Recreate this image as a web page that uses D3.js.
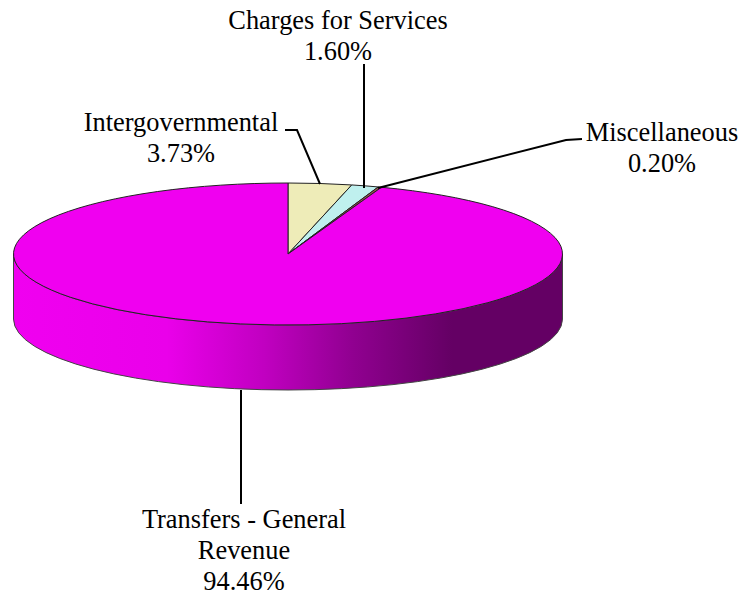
<!DOCTYPE html>
<html><head><meta charset="utf-8"><script src="https://cdn.jsdelivr.net/npm/d3@7"></script>
<style>html,body{margin:0;background:#fff}svg{display:block}text{font-family:"Liberation Serif",serif;font-size:26.4px;fill:#000;text-anchor:middle}</style>
</head><body><svg id="c" width="744" height="596"></svg>
<script>
const categories=["Intergovernmental","Charges for Services","Miscellaneous","Transfers - General Revenue"];
const values=[3.73,1.60,0.20,94.46];
const percentLabels=["3.73%","1.60%","0.20%","94.46%"];
const colors=["#eeecb8","#bff0ee","#a05050","#f000f0"];
const labelLines=[["Intergovernmental"],["Charges for Services"],["Miscellaneous"],["Transfers - General","Revenue"]];
const labelPos=[[181,131],[338,29],[662,141],[244,528]];
const leaders=[[[285,130],[297,130],[320,184]],[[364,64],[364,188]],[[582,139],[566,140],[378,188]],[[241,390],[241,504]]];
const cx=288,cy=254,rx=274.5,ry=71,depth=65;
const svg=d3.select("#c");
const defs=svg.append("defs");
const grad=defs.append("linearGradient").attr("id","side").attr("gradientUnits","userSpaceOnUse").attr("x1",13).attr("x2",562).attr("y1",0).attr("y2",0);
[[0,"#f000f0"],[0.28,"#ea00ea"],[0.46,"#c000c0"],[0.62,"#900090"],[0.8,"#640064"],[1,"#640064"]].forEach(d=>grad.append("stop").attr("offset",d[0]).attr("stop-color",d[1]));
const a=`M${cx-rx},${cy} A${rx},${ry} 0 0 0 ${cx+rx},${cy}`;
svg.append("path").attr("d",`${a} L${cx+rx},${cy+depth} A${rx},${ry} 0 0 1 ${cx-rx},${cy+depth} Z`)
  .attr("fill","url(#side)").attr("stroke","#444").attr("stroke-width",1);
const pie=d3.pie().sort(null).value(d=>d);
const arc=d3.arc().innerRadius(0).outerRadius(rx);
svg.append("g").attr("transform",`translate(${cx},${cy}) scale(1,${ry/rx})`)
 .selectAll("path").data(pie(values)).join("path").attr("d",arc).attr("fill",(d,i)=>colors[i])
 .attr("stroke","#222").attr("stroke-width",1).attr("vector-effect","non-scaling-stroke");
const line=d3.line();
svg.append("g").selectAll("path").data(leaders).join("path").attr("d",line).attr("fill","none").attr("stroke","#000").attr("stroke-width",2);
const g=svg.append("g");
categories.forEach((c,i)=>{
  const [x,y]=labelPos[i];
  labelLines[i].concat(percentLabels[i]).forEach((t,j)=>g.append("text").attr("x",x).attr("y",y+j*31).text(t));
});
</script></body></html>
